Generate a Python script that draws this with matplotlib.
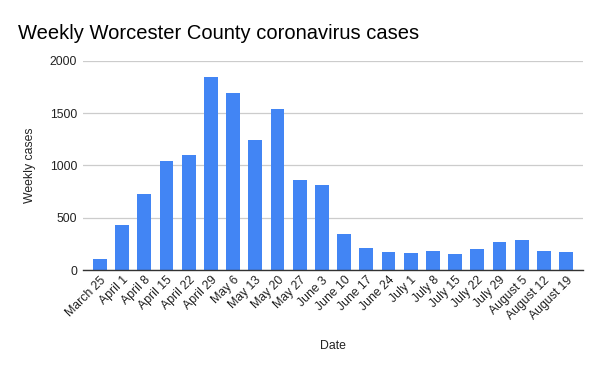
import matplotlib
matplotlib.use("Agg")
import matplotlib.pyplot as plt

plt.rcParams['font.family'] = ['Liberation Sans', 'DejaVu Sans']

dates = ["March 25", "April 1", "April 8", "April 15", "April 22", "April 29",
         "May 6", "May 13", "May 20", "May 27", "June 3", "June 10", "June 17",
         "June 24", "July 1", "July 8", "July 15", "July 22", "July 29",
         "August 5", "August 12", "August 19"]
cases = [108, 434, 731, 1047, 1104, 1841, 1688, 1248, 1535, 865, 817,
         348, 214, 175, 166, 185, 156, 204, 271, 290, 185, 175]
yticks = [0, 500, 1000, 1500, 2000]

fig = plt.figure(figsize=(6, 3.71), dpi=100)
ax = fig.add_axes([0.138, 0.272, 0.834, 0.564])

x = list(range(len(dates)))
ax.bar(x, cases, width=0.63, color="#4285F4", zorder=3)

ax.set_xlim(-0.77, len(dates) - 0.23)
ax.set_ylim(0, 2000)
ax.set_yticks(yticks)
ax.set_yticklabels([str(v) for v in yticks], fontsize=8.8, color="#222222")
ax.set_xticks(x)
ax.set_xticklabels(dates, rotation=45, ha="right", rotation_mode="anchor",
                   fontsize=8.8, color="#222222")
ax.tick_params(length=0, pad=4)
ax.tick_params(axis="x", pad=3)

ax.grid(axis="y", color="#cccccc", linewidth=0.9, zorder=0)
for s in ["top", "right", "left"]:
    ax.spines[s].set_visible(False)
ax.spines["bottom"].set_color("#333333")
ax.spines["bottom"].set_linewidth(1)
ax.spines["bottom"].set_zorder(4)

ax.set_ylabel("Weekly cases", fontsize=8.8, color="#222222", labelpad=10)
ax.set_xlabel("Date", fontsize=8.8, color="#222222", labelpad=13)
fig.text(0.03, 0.91, "Weekly Worcester County coronavirus cases",
         fontsize=14.5, color="#000000", va="center")

fig.savefig("out.png", dpi=100)
